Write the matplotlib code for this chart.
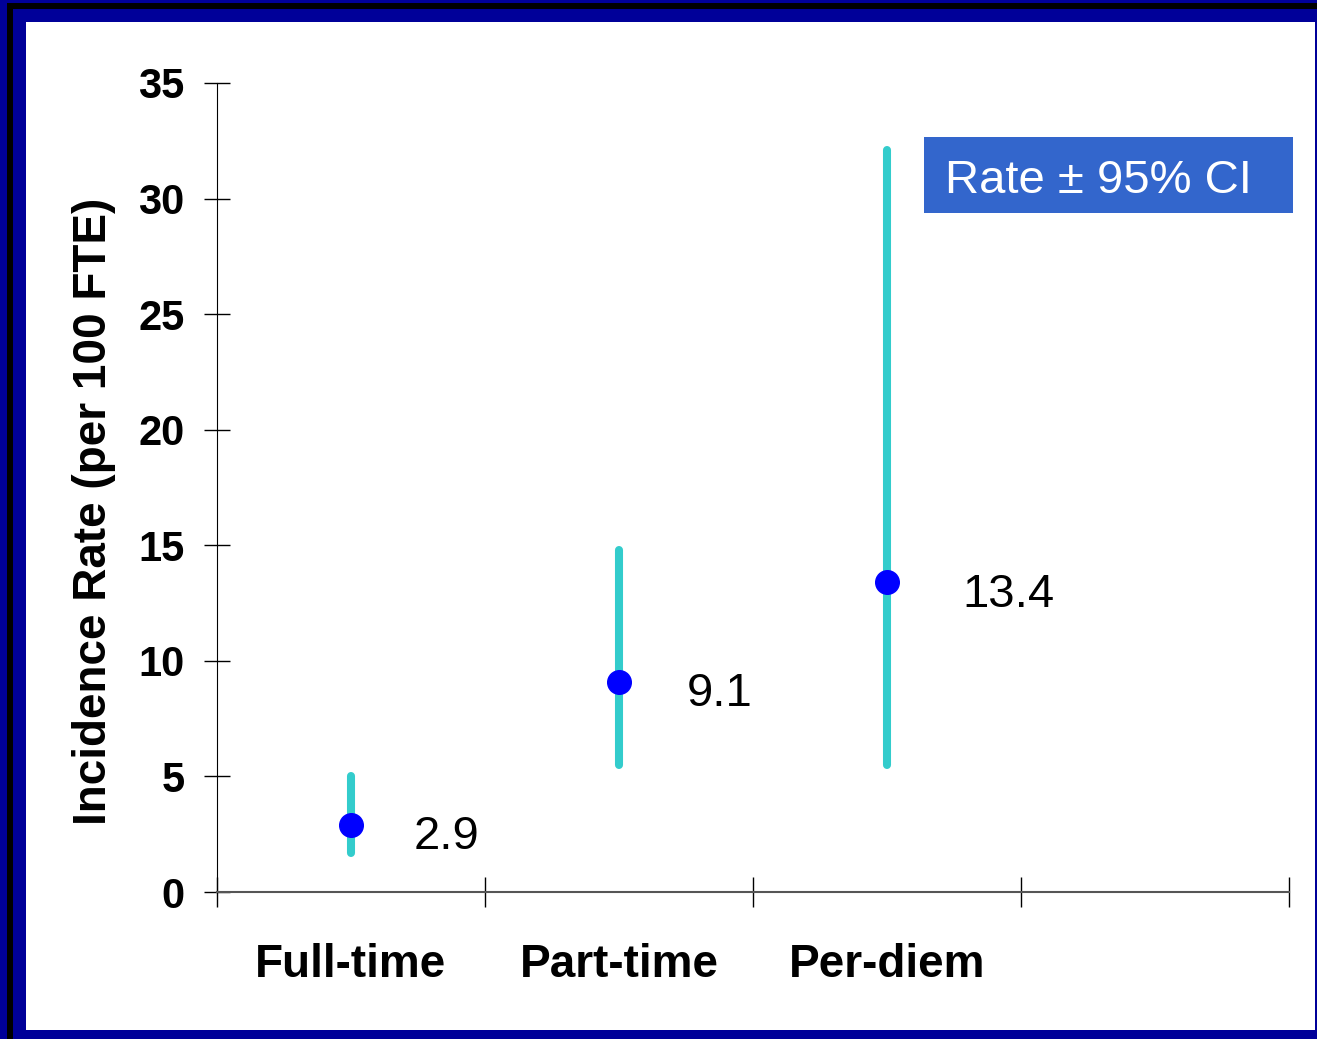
import matplotlib.pyplot as plt
from matplotlib.patches import Rectangle

plt.rcParams['font.family'] = ['Liberation Sans', 'DejaVu Sans']

# Data
categories = ['Full-time', 'Part-time', 'Per-diem']
rates = [2.9, 9.1, 13.4]
ci_low = [1.7, 5.5, 5.5]
ci_high = [5.0, 14.8, 32.1]
y_ticks = [0, 5, 10, 15, 20, 25, 30, 35]

NAVY = '#000099'
CYAN = '#33CCCC'
BLUE = '#0000FF'
BOX = '#3366CC'

W, H = 1317, 1039
fig = plt.figure(figsize=(W / 100, H / 100), dpi=100, facecolor=NAVY)

# slide frame: navy / black / navy / white
fig.patches.append(Rectangle((7 / W, -0.1), 1.2, 1 - 3 / H + 0.1, transform=fig.transFigure,
                             facecolor='black', edgecolor='none', zorder=0))
fig.patches.append(Rectangle((13 / W, -0.1), 1.2, 1 - 9 / H + 0.1, transform=fig.transFigure,
                             facecolor=NAVY, edgecolor='none', zorder=0))
fig.patches.append(Rectangle((26 / W, 9 / H), (1315 - 26) / W, (1030 - 22) / H,
                             transform=fig.transFigure, facecolor='white', edgecolor='none', zorder=0))

ax = fig.add_axes([217 / W, 1 - 892 / H, (1289 - 217) / W, (892 - 83) / H])
ax.set_facecolor('none')
ax.set_zorder(5)

x = [i + 0.5 for i in range(len(categories))]

for xi, lo, hi in zip(x, ci_low, ci_high):
    ax.plot([xi, xi], [lo, hi], color=CYAN, lw=5.8, solid_capstyle='round', zorder=2)
ax.plot(x, rates, 'o', color=BLUE, markersize=17, zorder=3)

# value labels sit a little to the right of each point
label_dx = [45, 49, 54]
for xi, r, dx in zip(x, rates, label_dx):
    ax.annotate(f'{r}', (xi, r), xytext=(dx, -9), textcoords='offset points',
                ha='left', va='center', fontsize=34, color='black')

ax.set_xlim(0, 4)
ax.set_ylim(0, 35)
ax.set_yticks(y_ticks)
ax.set_yticklabels([str(t) for t in y_ticks], fontsize=30, fontweight='bold')
ax.set_xticks([0, 1, 2, 3, 4])
ax.set_xticklabels([])
ax.set_xticks(x, minor=True)
ax.set_xticklabels(categories, minor=True, fontsize=33, fontweight='bold')

ax.tick_params(axis='y', direction='inout', length=19, width=1, pad=14)
ax.tick_params(axis='x', which='major', direction='inout', length=22, width=1)
ax.tick_params(axis='x', which='minor', length=0, pad=37)

for s in ['top', 'right']:
    ax.spines[s].set_visible(False)
ax.spines['left'].set_color('black')
ax.spines['bottom'].set_color('#555555')
ax.spines['bottom'].set_linewidth(1.5)

ax.set_ylabel('Incidence Rate (per 100 FTE)', fontsize=33, fontweight='bold')
ax.yaxis.set_label_coords(-0.094, 0.47)

# legend-like label box
fig.patches.append(Rectangle((924 / W, 1 - 213 / H), (1293 - 924) / W, 76 / H,
                             transform=fig.transFigure, facecolor=BOX, edgecolor='none', zorder=1))
fig.text(945 / W, 1 - 181 / H, 'Rate ± 95% CI', color='white', fontsize=34,
         ha='left', va='center', zorder=2)

fig.savefig('out.png', dpi=100, facecolor=fig.get_facecolor())
